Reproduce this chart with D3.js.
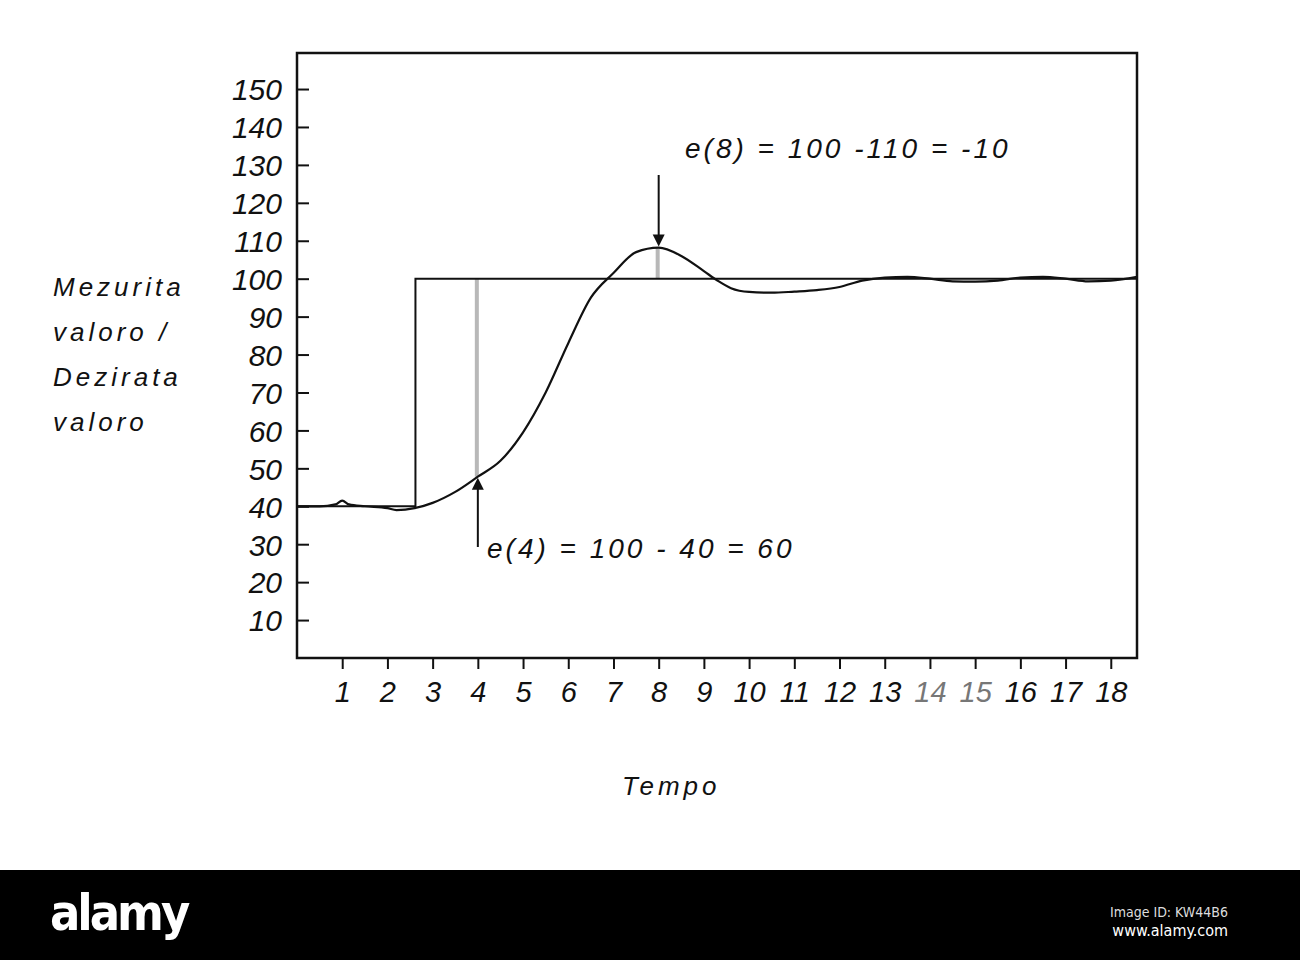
<!DOCTYPE html>
<html>
<head>
<meta charset="utf-8">
<script src="https://cdn.jsdelivr.net/npm/d3@7"></script>
<style>
  body { margin: 0; background: #fff; }
  svg { display: block; }
  text { font-family: "Liberation Sans", Arial, sans-serif; font-style: italic; }
</style>
</head>
<body>
<svg id="chart"></svg>
<script>
var meas_t = [0, 0.5, 0.85, 1.0, 1.15, 1.5, 2.0, 2.2, 2.6, 3.0, 3.5, 4.0, 4.5, 5.0, 5.5, 6.0, 6.5, 7.0, 7.5, 8.0, 8.5, 9.0, 9.3, 9.6, 10.0, 10.5, 11.0, 11.5, 12.0, 12.5, 13.0, 13.5, 14.0, 14.5, 15.0, 15.5, 16.0, 16.5, 17.0, 17.5, 18.0, 18.58];
var meas_v = [40, 40, 40.5, 41.5, 40.5, 40, 39.5, 39, 39.5, 40.9, 43.8, 47.8, 52, 59.5, 70, 83, 95, 101.5, 107, 108.2, 106, 102, 99.5, 97.5, 96.5, 96.3, 96.6, 97, 97.8, 99.5, 100.3, 100.5, 100, 99.3, 99.2, 99.5, 100.3, 100.5, 100, 99.3, 99.5, 100.5];
// desired value (set point) step
var sp_t = [0, 2.62, 2.62, 18.58];
var sp_v = [40, 40, 100, 100];
var x_ticks = [1, 2, 3, 4, 5, 6, 7, 8, 9, 10, 11, 12, 13, 14, 15, 16, 17, 18];
var y_ticks = [10, 20, 30, 40, 50, 60, 70, 80, 90, 100, 110, 120, 130, 140, 150];
var y_label = ["Mezurita", "valoro /", "Dezirata", "valoro"];
var x_label = "Tempo";
var note8 = { t: 8, text: "e(8) = 100 -110 = -10" };
var note4 = { t: 4, text: "e(4) = 100 - 40 = 60" };

var width = 1300, height = 960;
var margin = { top: 53, right: 163, bottom: 302, left: 297 };
var ink = "#111";

var svg = d3.select("#chart")
    .attr("width", width)
    .attr("height", height);

var xScale = d3.scaleLinear()
    .domain([0, 18.58])
    .range([margin.left, width - margin.right]);
var yScale = d3.scaleLinear()
    .domain([0, 159.5])
    .range([height - margin.bottom, margin.top]);

var measured = meas_t.map((t, i) => ({ t: t, v: meas_v[i] }));
var setpoint = sp_t.map((t, i) => ({ t: t, v: sp_v[i] }));
var curveAt = t => meas_v[d3.bisectLeft(meas_t, t)];

// error bars (grey)
[note8, note4].forEach(n => {
    svg.append("line")
        .attr("x1", xScale(n.t) - 1).attr("x2", xScale(n.t) - 1)
        .attr("y1", yScale(100)).attr("y2", yScale(curveAt(n.t)))
        .attr("stroke", "#b8b8b8")
        .attr("stroke-width", 4);
});

// frame
svg.append("rect")
    .attr("x", xScale(0))
    .attr("y", margin.top)
    .attr("width", xScale(18.58) - xScale(0))
    .attr("height", yScale(0) - margin.top)
    .attr("fill", "none")
    .attr("stroke", ink)
    .attr("stroke-width", 2.5);

// y axis
var yAxis = svg.append("g")
    .attr("transform", "translate(" + xScale(0) + ",0)")
    .call(d3.axisLeft(yScale).tickValues(y_ticks).tickSize(12).tickPadding(3));
yAxis.select(".domain").remove();
yAxis.selectAll(".tick line").attr("x2", 12).attr("stroke", ink).attr("stroke-width", 2);
yAxis.selectAll(".tick text")
    .style("font-size", "30px")
    .style("fill", ink)
    .attr("dy", "0.36em");

// x axis
var xAxis = svg.append("g")
    .attr("transform", "translate(0," + yScale(0) + ")")
    .call(d3.axisBottom(xScale).tickValues(x_ticks).tickSize(11).tickPadding(12));
xAxis.select(".domain").remove();
xAxis.selectAll(".tick line").attr("stroke", ink).attr("stroke-width", 2);
xAxis.selectAll(".tick text")
    .style("font-size", "29px")
    .style("fill", d => (d == 14 || d == 15) ? "#777" : ink);

// set point
svg.append("path")
    .datum(setpoint)
    .attr("fill", "none")
    .attr("stroke", ink)
    .attr("stroke-width", 2)
    .attr("d", d3.line().x(d => xScale(d.t)).y(d => yScale(d.v)));

// measured value
svg.append("path")
    .datum(measured)
    .attr("fill", "none")
    .attr("stroke", ink)
    .attr("stroke-width", 2.2)
    .attr("d", d3.line().curve(d3.curveMonotoneX).x(d => xScale(d.t)).y(d => yScale(d.v)));

// arrows
var ax8 = xScale(note8.t), tip8 = yScale(curveAt(note8.t)) - 1;
svg.append("line")
    .attr("x1", ax8).attr("x2", ax8)
    .attr("y1", 175).attr("y2", tip8 - 8)
    .attr("stroke", ink).attr("stroke-width", 2);
svg.append("path")
    .attr("d", d3.line()([[ax8 - 6, tip8 - 12], [ax8 + 6, tip8 - 12], [ax8, tip8]]) + "Z")
    .attr("fill", ink);

var ax4 = xScale(note4.t), tip4 = yScale(curveAt(note4.t)) + 1;
svg.append("line")
    .attr("x1", ax4).attr("x2", ax4)
    .attr("y1", 547).attr("y2", tip4 + 8)
    .attr("stroke", ink).attr("stroke-width", 2);
svg.append("path")
    .attr("d", d3.line()([[ax4 - 6, tip4 + 12], [ax4 + 6, tip4 + 12], [ax4, tip4]]) + "Z")
    .attr("fill", ink);

// annotations
svg.append("text")
    .attr("x", 685).attr("y", 158)
    .style("font-size", "28px")
    .style("letter-spacing", "3px")
    .style("fill", ink)
    .text(note8.text);
svg.append("text")
    .attr("x", 487).attr("y", 558)
    .style("font-size", "28px")
    .style("letter-spacing", "3px")
    .style("fill", ink)
    .text(note4.text);

// axis titles
svg.append("g").selectAll("text")
    .data(y_label)
    .enter()
    .append("text")
    .attr("x", 53)
    .attr("y", (d, i) => 296 + i * 45)
    .style("font-size", "26px")
    .style("letter-spacing", "4px")
    .style("fill", ink)
    .text(d => d);
svg.append("text")
    .attr("x", 622).attr("y", 795)
    .style("font-size", "26px")
    .style("letter-spacing", "4px")
    .style("fill", ink)
    .text(x_label);

// stock-photo footer band
svg.append("rect")
    .attr("x", 0).attr("y", 870)
    .attr("width", width).attr("height", 90)
    .attr("fill", "#000");
svg.append("text")
    .attr("x", 50).attr("y", 930)
    .style("font-family", "'DejaVu Sans Condensed', 'Liberation Sans Narrow', sans-serif")
    .style("font-style", "normal")
    .style("font-weight", "bold")
    .style("font-size", "50px")
    .style("letter-spacing", "-3px")
    .style("fill", "#fff")
    .text("alamy");
svg.append("text")
    .attr("x", 1228).attr("y", 917)
    .attr("text-anchor", "end")
    .style("font-family", "'DejaVu Sans Condensed', 'Liberation Sans Narrow', sans-serif")
    .style("font-style", "normal")
    .style("font-size", "14px")
    .style("fill", "#ddd")
    .text("Image ID: KW44B6");
svg.append("text")
    .attr("x", 1228).attr("y", 936)
    .attr("text-anchor", "end")
    .style("font-family", "'DejaVu Sans Condensed', 'Liberation Sans Narrow', sans-serif")
    .style("font-style", "normal")
    .style("font-size", "16px")
    .style("fill", "#fff")
    .text("www.alamy.com");
</script>
</body>
</html>
